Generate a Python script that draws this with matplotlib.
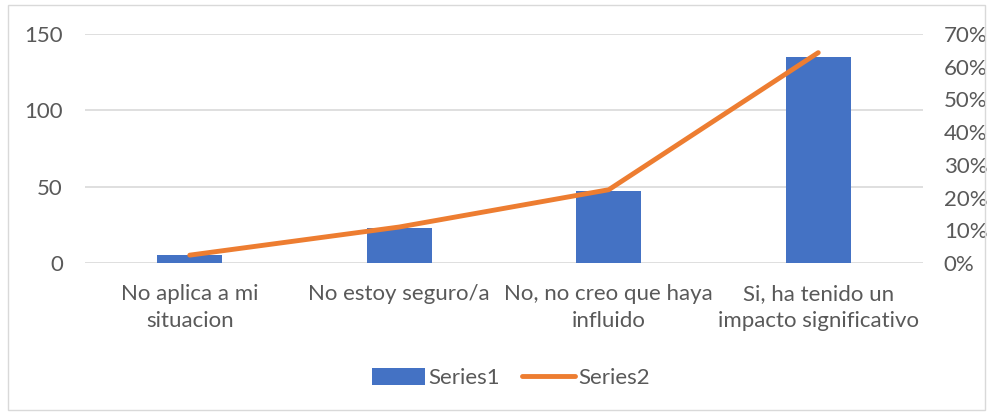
import matplotlib.pyplot as plt
import numpy as np
from matplotlib.patches import Rectangle
from matplotlib.ticker import PercentFormatter

categories = ['No aplica a mi\nsituacion', 'No estoy seguro/a',
              'No, no creo que haya\ninfluido', 'Si, ha tenido un\nimpacto significativo']
series1 = [5, 23, 47, 135]
series2 = [0.024, 0.110, 0.224, 0.643]

plt.rcParams['font.family'] = ['Lato', 'DejaVu Sans']
txt = '#595959'
grid = '#d9d9d9'
fs = 16

fig = plt.figure(figsize=(9.93, 4.12), dpi=100)
fig.patches.append(Rectangle((8 / 993, 2 / 412), 977 / 993, 405 / 412, transform=fig.transFigure,
                             fill=False, edgecolor=grid, linewidth=1))

ax = fig.add_axes([85 / 993, 1 - 263 / 412, (923 - 85) / 993, (263 - 34) / 412])
x = np.arange(len(categories))
b = ax.bar(x, series1, width=0.31, color='#4472c4', label='Series1', zorder=2)
ax.set_xlim(-0.5, len(categories) - 0.5)
ax.set_ylim(0, 150)
ax.set_yticks([0, 50, 100, 150])
ax.yaxis.grid(True, color=grid, linewidth=1.2, zorder=0)
for s in ax.spines.values():
    s.set_visible(False)
ax.tick_params(axis='both', length=0, colors=txt, labelsize=fs)
ax.tick_params(axis='y', pad=16)
ax.tick_params(axis='x', pad=15)
ax.set_xticks(x)
ax.set_xticklabels(categories, linespacing=1.45)

ax2 = ax.twinx()
l, = ax2.plot(x, series2, color='#ed7d31', linewidth=3.5, solid_capstyle='round', label='Series2', zorder=3)
ax2.set_ylim(0, 0.7)
ax2.set_yticks(np.arange(0, 0.71, 0.1))
ax2.yaxis.set_major_formatter(PercentFormatter(1.0, decimals=0))
for s in ax2.spines.values():
    s.set_visible(False)
ax2.tick_params(axis='y', length=0, colors=txt, labelsize=fs, pad=15)

fig.legend([b, l], ['Series1', 'Series2'], loc='center', bbox_to_anchor=(511 / 993, 1 - 378 / 412),
           ncol=2, frameon=False, fontsize=fs, labelcolor=txt, handlelength=2.4,
           handletextpad=0.15, columnspacing=1.0, handleheight=0.8)

fig.savefig('out.png', dpi=100)
